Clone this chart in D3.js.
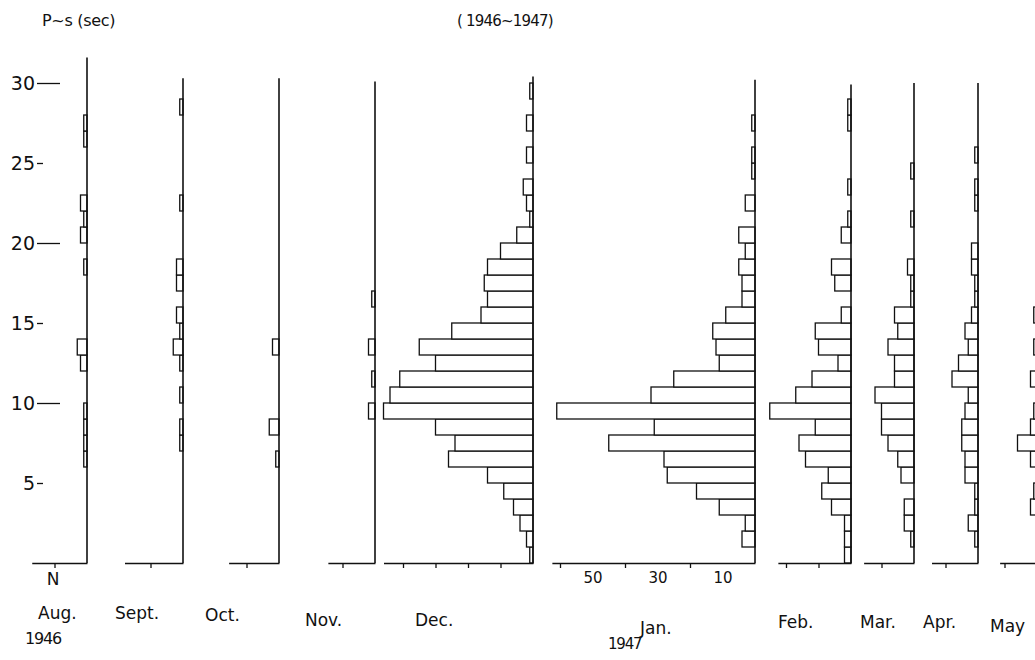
<!DOCTYPE html>
<html>
<head>
<meta charset="utf-8">
<script src="https://cdn.jsdelivr.net/npm/d3@7"></script>
<style>
  html, body { margin: 0; padding: 0; background: #fff; }
  svg { display: block; }
  text { font-family: "DejaVu Sans", sans-serif; fill: #111; }
</style>
</head>
<body>
<svg id="chart" width="1035" height="660"></svg>
<script>
// ---- DATA: counts per 1-second P~S bin (index = lower edge of bin, 0..29 sec) ----
const months = ["Aug.", "Sept.", "Oct.", "Nov.", "Dec.", "Jan.", "Feb.", "Mar.", "Apr.", "May"];
const aug  = [0,0,0,0,0,0,1,1,1,1, 0,0,2,3,0,0,0,0,1,0, 2,1,2,0,0,0,1,1,0,0];
const sept = [0,0,0,0,0,0,0,1,1,0, 1,0,1,3,1,2,0,2,2,0, 0,0,1,0,0,0,0,0,1,0];
const oct  = [0,0,0,0,0,0,1,0,3,0, 0,0,0,2,0,0,0,0,0,0, 0,0,0,0,0,0,0,0,0,0];
const nov  = [0,0,0,0,0,0,0,0,0,2, 0,1,0,2,0,0,1,0,0,0, 0,0,0,0,0,0,0,0,0,0];
const dec  = [1,2,4,6,9,14,26,24,30,46, 44,41,30,35,25,16,14,15,14,10, 5,1,2,3,0,2,0,2,0,1];
const jan  = [0,4,3,11,18,27,28,45,31,61, 32,25,11,12,13,9,4,4,5,3, 5,0,3,0,1,1,0,1,0,0];
const feb  = [2,2,2,6,9,7,14,16,11,25, 17,12,4,10,11,3,0,5,6,0, 3,1,0,1,0,0,0,1,1,0];
const mar  = [0,1,3,3,0,4,5,8,10,10, 12,6,6,8,5,6,1,1,2,0, 0,1,0,0,1,0,0,0,0,0];
const apr  = [0,1,3,1,1,4,4,5,5,4, 3,8,6,3,4,2,1,1,2,2, 0,0,1,1,0,1,0,0,0,0];
const may  = [0,0,0,2,1,0,2,6,2,1, 0,2,0,1,0,1,0,0,0,0, 0,0,0,0,0,0,0,0,0,0];
const series = [aug, sept, oct, nov, dec, jan, feb, mar, apr, may];

const yTicks = [5, 10, 15, 20, 25, 30];
const countTicks = [[10],[10],[10],[10],[10,20,30,40],[20,40,60],[10,20],[10],[10],[10]];
const janLabels = [10, 30, 50];
const yearLabels = ["1946", "1947"];

// ---- LAYOUT ----
const svg = d3.select("#chart");
const pxPerCount = 3.25;
const baseX   = [87, 183, 279, 375, 533, 755, 851, 914, 978, 1037];
const axisExt = [17, 18, 15.5, 14.5, 46, 62.5, 22.5, 15.5, 14.3, 11.5];
const topSec  = [31.6, 30.3, 30.3, 30.1, 30.4, 30.2, 29.9, 30, 30, 29.9];
const labelPos = [[38,619],[115,619],[205,621],[305,626],[415,626],[640,634],[778,628],[860,628],[923,628],[990,632]];

const y = d3.scaleLinear().domain([0, 30]).range([563, 83]);

// y axis
const yAxis = d3.axisLeft(y).tickValues(yTicks).tickSize(0).tickPadding(0).tickFormat(d => d);
const ya = svg.append("g").attr("transform", "translate(35,0)").call(yAxis);
ya.select(".domain").remove();
ya.selectAll("text").style("font-size", "19px").style("font-family", "DejaVu Sans").attr("fill", "#111");
ya.selectAll(".tick").append("line")
  .attr("x1", 2).attr("x2", d => d % 10 === 0 ? 25 : 8)
  .attr("y1", 0).attr("y2", 0).attr("stroke", "#111").attr("stroke-width", 1.3);

// panels
series.forEach((vals, i) => {
  const b = baseX[i];
  const xs = d3.scaleLinear().domain([0, axisExt[i]]).range([b, b - axisExt[i] * pxPerCount]);
  const g = svg.append("g");
  const bins = vals.map((v, k) => ({ k, v })).filter(d => d.v > 0);
  g.selectAll("rect").data(bins).join("rect")
    .attr("x", d => xs(d.v))
    .attr("width", d => b - xs(d.v))
    .attr("y", d => y(d.k + 1))
    .attr("height", d => y(d.k) - y(d.k + 1))
    .attr("fill", "#fff").attr("stroke", "#111").attr("stroke-width", 1.3);
  // vertical baseline
  g.append("line").attr("x1", b).attr("x2", b).attr("y1", y(0)).attr("y2", y(topSec[i]))
    .attr("stroke", "#111").attr("stroke-width", 1.6);
  // horizontal count axis
  const ax = d3.axisBottom(xs).tickValues(countTicks[i]).tickSize(5).tickSizeOuter(0).tickFormat("");
  const ag = g.append("g").attr("transform", `translate(0,${y(0)})`).call(ax);
  ag.select(".domain").attr("stroke", "#111").attr("stroke-width", 1.3);
  ag.selectAll(".tick line").attr("stroke", "#111").attr("stroke-width", 1.3);
  // month label
  svg.append("text").attr("x", labelPos[i][0]).attr("y", labelPos[i][1])
    .style("font-size", "17px").text(months[i]);
  if (i === 5) {
    const lab = d3.axisBottom(xs).tickValues(janLabels).tickSize(0).tickPadding(0).tickFormat(d => d);
    const lg = svg.append("g").attr("transform", `translate(0,${y(0) + 9})`).call(lab);
    lg.select(".domain").remove();
    lg.selectAll("text").style("font-size", "15px").style("font-family", "DejaVu Sans").attr("fill", "#111");
  }
});

// N under first panel
svg.append("text").attr("x", 53).attr("y", 585).attr("text-anchor", "middle")
  .style("font-size", "17px").text("N");
// years
svg.append("text").attr("x", 25).attr("y", 644).style("font-size", "16px").style("letter-spacing", "-1.2px").text(yearLabels[0]);
svg.append("text").attr("x", 608).attr("y", 649).style("font-size", "15px").style("letter-spacing", "-1.2px").text(yearLabels[1]);

// top labels
svg.append("text").attr("x", 42).attr("y", 26).style("font-size", "16px").style("letter-spacing", "-0.3px").text("P~s (sec)");
svg.append("text").attr("x", 457).attr("y", 26).style("font-size", "15px").style("letter-spacing", "-0.8px").text("( 1946~1947)");
</script>
</body>
</html>
